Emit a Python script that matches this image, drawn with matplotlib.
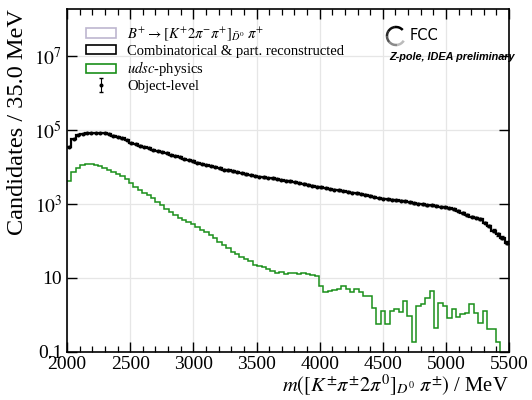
import numpy as np
import matplotlib
matplotlib.use("Agg")
import matplotlib.pyplot as plt
import matplotlib.ticker as mticker
from matplotlib.patches import Patch, Arc

# binning: 35 MeV from 2000 to 5500 MeV
bin_edges = np.arange(2000, 5501, 35)

# Combinatorical & part. reconstructed (object-level points follow the same values)
comb_counts = [
    34700, 57500, 72400, 79400, 83200, 85100, 85100, 83200, 81300, 75900,
    70800, 64600, 58900, 52500, 45700, 41700, 38000, 35500, 32400, 29500,
    27500, 25700, 23400, 21400, 20000, 18200, 16600, 15500, 14100, 13200,
    12300, 11500, 10700, 10000, 9120, 8510, 8130, 7590, 7240, 6760,
    6310, 6030, 5750, 5500, 5250, 5010, 4900, 4680, 4470, 4270,
    4070, 3890, 3720, 3550, 3310, 3160, 2950, 2820, 2690, 2570,
    2450, 2340, 2240, 2140, 2040, 1950, 1860, 1780, 1660, 1550,
    1450, 1380, 1350, 1290, 1260, 1230, 1170, 1100, 1050, 1020,
    977, 933, 912, 891, 851, 813, 776, 724, 661, 575,
    501, 457, 427, 389, 316, 251, 191, 151, 123, 91,
]

# udsc-physics
udsc_counts = [
    4270, 7410, 9550, 11200, 11700, 11700, 11200, 10500, 9550, 8510,
    7410, 6610, 5750, 4790, 3720, 2950, 2450, 2040, 1740, 1410,
    1150, 933, 741, 617, 501, 427, 380, 324, 282, 240,
    200, 170, 141, 117, 95, 79, 66, 52, 45, 38,
    33, 28, 23, 21, 19.5, 17.4, 15.1, 13.8, 14.5, 13.2,
    13.8, 13.5, 12.6, 13.5, 12.9, 11.7, 11.0, 6.0, 4.2, 4.4,
    4.6, 5.0, 5.9, 4.9, 4.2, 4.9, 4.2, 3.2, 3.2, 1.55,
    0.58, 1.26, 0.58, 1.26, 1.48, 1.17, 2.34, 0.95, 0.19, 1.70,
    2.0, 2.82, 4.47, 0.44, 2.14, 1.70, 0.81, 1.48, 0.87, 1.07,
    1.12, 2.04, 1.15, 0.62, 1.26, 0.42, 0.42, 0.19, 0, 0,
]

y_ticks = [0.1, 10, 1e3, 1e5, 1e7]
y_tick_labels = ["0.1", "10", r"$10^{3}$", r"$10^{5}$", r"$10^{7}$"]

plt.rcParams["font.family"] = ["Liberation Serif", "DejaVu Serif"]
plt.rcParams["mathtext.fontset"] = "stix"

fig = plt.figure(figsize=(5.32, 4.0), dpi=100)
ax = fig.add_axes([0.126, 0.12, 0.831, 0.8575])

comb = np.array(comb_counts, dtype=float)
udsc = np.array(udsc_counts, dtype=float)
centers = 0.5 * (bin_edges[1:] + bin_edges[:-1])

ax.stairs(udsc, bin_edges, color="#1a8f1a", lw=1.1, baseline=None)
ax.stairs(comb, bin_edges, color="black", lw=1.6, baseline=None)
pts = ax.errorbar(centers, comb, yerr=np.sqrt(comb), fmt="o", color="black",
                  ms=1.9, lw=0.8, capsize=1.5)

ax.set_yscale("log")
ax.set_xlim(2000, 5500)
ax.set_ylim(0.1, 10 ** 8.27)

ax.set_yticks(y_ticks)
ax.set_yticklabels(y_tick_labels)
ax.yaxis.set_minor_locator(mticker.NullLocator())
ax.xaxis.set_major_locator(mticker.MultipleLocator(500))
ax.xaxis.set_minor_locator(mticker.MultipleLocator(100))

ax.tick_params(which="both", direction="in", top=True, right=True, labelsize=14)
ax.tick_params(axis="x", pad=3)
ax.tick_params(which="major", length=7, width=1.0)
ax.tick_params(which="minor", length=4, width=0.9)
for sp in ax.spines.values():
    sp.set_linewidth(1.2)

ax.grid(True, which="major", color="#e6e6e6", lw=0.9)
ax.set_axisbelow(True)

ax.set_xlabel(r"$m([K^{\pm}\pi^{\pm}2\pi^{0}]_{D^{0}}\ \pi^{\pm})$ / MeV",
              fontsize=14.8, loc="right")
ax.xaxis.set_label_coords(1.0, -0.06)
ax.set_ylabel("Candidates / 35.0 MeV", fontsize=17.5, loc="top")
ax.yaxis.set_label_coords(-0.088, 1.0)

handles = [
    Patch(facecolor="white", edgecolor="#bdb6cf", lw=1.2),
    Patch(facecolor="white", edgecolor="black", lw=1.2),
    Patch(facecolor="white", edgecolor="#1a8f1a", lw=1.2),
    pts,
]
labels = [
    r"$B^{+}\rightarrow[K^{+}2\pi^{-}\pi^{+}]_{\bar{D}^{0}}\ \pi^{+}$",
    "Combinatorical & part. reconstructed",
    r"$udsc$-physics",
    "Object-level",
]
ax.legend(handles, labels, loc="upper left", bbox_to_anchor=(0.03, 0.97),
          frameon=False, fontsize=10.5, handlelength=2.05, handleheight=0.6,
          handletextpad=0.75, labelspacing=0.12, borderaxespad=0.0)

# FCC logo
W, H = 532.0, 400.0
greys = ["#000000", "#111111", "#2a2a2a", "#555555", "#8a8a8a", "#bbbbbb"]
angles = np.linspace(50, 320, len(greys) + 1)
for g, a0, a1 in zip(greys, angles[:-1], angles[1:]):
    fig.add_artist(Arc((396 / W, 1 - 36 / H), 18 / W, 18 / H, theta1=a0, theta2=a1 + 1,
                       color=g, lw=1.8, transform=fig.transFigure))
fig.text(410 / W, 1 - 36 / H, "FCC", family="DejaVu Sans", fontsize=10.5,
         va="center", ha="left")
fig.text(389 / W, 1 - 57 / H, "Z-pole, IDEA preliminary", family="Liberation Sans",
         fontsize=7.8, fontweight="bold", fontstyle="italic", va="center", ha="left")

fig.savefig("out.png", dpi=100)
